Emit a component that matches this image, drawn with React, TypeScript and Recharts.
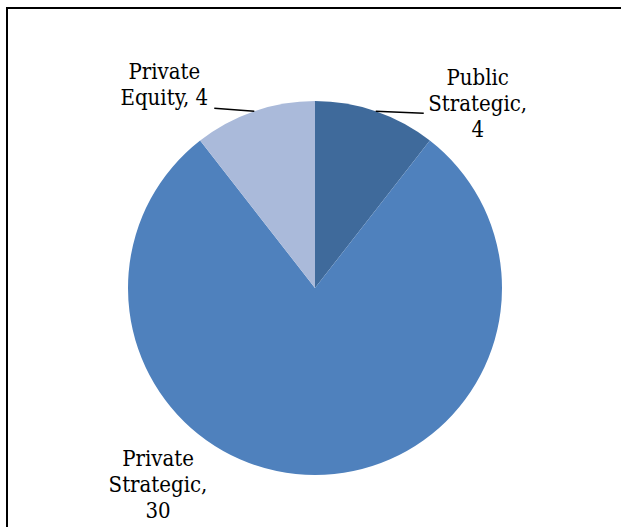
import { Pie, PieChart, Cell } from 'recharts';

const categories = ['Public Strategic', 'Private Strategic', 'Private Equity'];
const values = [4, 30, 4];
const labelLines = [['Public', 'Strategic,', '4'], ['Private', 'Strategic,', '30'], ['Private', 'Equity, 4']];

const COLORS = ['#3F6A9B', '#4F81BD', '#AABADA'];

// label placement relative to the point on the rim at the slice's mid angle
const LABEL_LAYOUT = [
  { lineTo: [48, 2], textX: 102, textY: -26 },
  { lineTo: null, textX: -157, textY: -9 },
  { lineTo: [-40, -3], textX: -90, textY: -32 },
];

const data = categories.map((name, i) => ({ name, value: values[i] }));

const RADIAN = Math.PI / 180;

function renderLabel(props: any) {
  const { cx, cy, outerRadius, midAngle, index } = props;
  const ex = cx + outerRadius * Math.cos(-midAngle * RADIAN);
  const ey = cy + outerRadius * Math.sin(-midAngle * RADIAN);
  const layout = LABEL_LAYOUT[index];
  return (
    <g key={`label-${index}`}>
      {layout.lineTo && (
        <line
          x1={ex}
          y1={ey}
          x2={ex + layout.lineTo[0]}
          y2={ey + layout.lineTo[1]}
          stroke="#000"
          strokeWidth={1.5}
        />
      )}
      <text
        x={ex + layout.textX}
        y={ey + layout.textY}
        textAnchor="middle"
        fill="#000"
        fontFamily="'DejaVu Serif Condensed', 'DejaVu Serif', serif"
        fontSize={22}
      >
        {labelLines[index].map((l, j) => (
          <tspan key={j} x={ex + layout.textX} dy={j === 0 ? 0 : 26}>
            {l}
          </tspan>
        ))}
      </text>
    </g>
  );
}

export default function App() {
  return (
    <div style={{ position: 'absolute', left: 0, top: 0, width: 621, height: 527, background: '#fff', overflow: 'hidden' }}>
      <div
        style={{
          position: 'absolute',
          left: 6,
          top: 7,
          width: 640,
          height: 540,
          borderTop: '2px solid #000',
          borderLeft: '2px solid #000',
        }}
      />
      <PieChart
        width={621}
        height={527}
        margin={{ top: 0, right: 0, bottom: 0, left: 0 }}
        style={{ position: 'absolute', left: 0, top: 0 }}
      >
        <Pie
          data={data}
          dataKey="value"
          nameKey="name"
          cx={315}
          cy={288}
          outerRadius={187}
          startAngle={90}
          endAngle={-270}
          stroke="none"
          label={renderLabel}
          labelLine={false}
          isAnimationActive={false}
        >
          {data.map((d, i) => (
            <Cell key={d.name} fill={COLORS[i]} />
          ))}
        </Pie>
      </PieChart>
    </div>
  );
}
